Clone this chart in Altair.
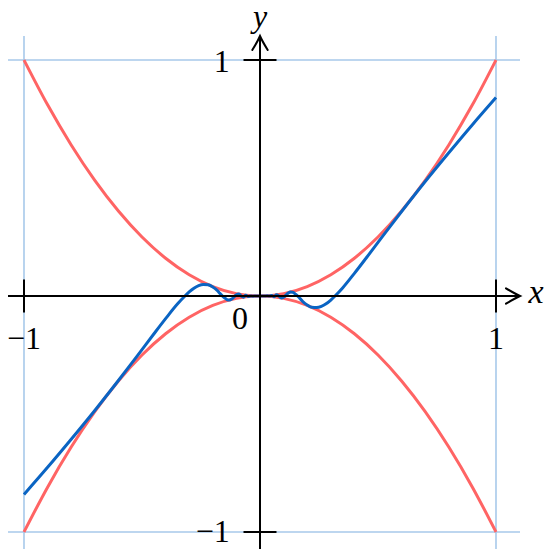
import altair as alt
import pandas as pd

# ---- data ----
blue_x = [-1.0, -0.9, -0.8, -0.7, -0.6, -0.55, -0.5, -0.45, -0.4, -0.35, -0.32, -0.3,
          -0.28, -0.26, -0.24, -0.22, -0.2, -0.19, -0.18, -0.17, -0.16, -0.15, -0.14,
          -0.13, -0.12, -0.11, -0.1, -0.09, -0.08, -0.07, -0.06, -0.05, -0.04, -0.03,
          -0.02, 0.0, 0.02, 0.03, 0.04, 0.05, 0.06, 0.07, 0.08, 0.09, 0.1, 0.11, 0.12,
          0.13, 0.14, 0.15, 0.16, 0.17, 0.18, 0.19, 0.2, 0.22, 0.24, 0.26, 0.28, 0.3,
          0.32, 0.35, 0.4, 0.45, 0.5, 0.55, 0.6, 0.7, 0.8, 0.9, 1.0]
blue_y = [-0.841, -0.726, -0.607, -0.485, -0.358, -0.293, -0.227, -0.161, -0.096, -0.034,
          -0.002, 0.017, 0.033, 0.044, 0.049, 0.048, 0.038, 0.031, 0.022, 0.011, 0.001,
          -0.008, -0.015, -0.017, -0.013, -0.004, 0.005, 0.008, 0.0004, -0.005, 0.003,
          -0.002, 0.0002, -0.0008, 0.0, 0.0, 0.0, 0.0008, -0.0002, 0.002, -0.003, 0.005,
          -0.0004, -0.008, -0.005, 0.004, 0.013, 0.017, 0.015, 0.008, -0.001, -0.011,
          -0.022, -0.031, -0.038, -0.048, -0.049, -0.044, -0.033, -0.017, 0.002, 0.034,
          0.096, 0.161, 0.227, 0.293, 0.358, 0.485, 0.607, 0.726, 0.841]

red_x = [-1.0, -0.9, -0.8, -0.7, -0.6, -0.5, -0.4, -0.3, -0.2, -0.1, 0.0,
         0.1, 0.2, 0.3, 0.4, 0.5, 0.6, 0.7, 0.8, 0.9, 1.0]
red_upper = [1.0, 0.81, 0.64, 0.49, 0.36, 0.25, 0.16, 0.09, 0.04, 0.01, 0.0,
             0.01, 0.04, 0.09, 0.16, 0.25, 0.36, 0.49, 0.64, 0.81, 1.0]
red_lower = [-1.0, -0.81, -0.64, -0.49, -0.36, -0.25, -0.16, -0.09, -0.04, -0.01, 0.0,
             -0.01, -0.04, -0.09, -0.16, -0.25, -0.36, -0.49, -0.64, -0.81, -1.0]

x_ticks = [-1, 1]
x_tick_labels = ["\u22121", "1"]
y_ticks = [1, -1]
y_tick_labels = ["1", "\u22121"]
origin_label = "0"

# ---- frame ----
X_MIN, X_MAX = -252 / 236, 285 / 236
Y_MIN, Y_MAX = -253 / 236, 288 / 236
AX_END = 260 / 236      # where the axis arrows end
TICK = 16.5 / 236

xs = alt.Scale(domain=[X_MIN, X_MAX], nice=False, zero=False)
ys = alt.Scale(domain=[Y_MIN, Y_MAX], nice=False, zero=False)
FONT = "Liberation Serif"

def X(f="x"):
    return alt.X(f"{f}:Q", scale=xs, axis=None)

def Y(f="y"):
    return alt.Y(f"{f}:Q", scale=ys, axis=None)

# light blue frame lines
frame_v = pd.DataFrame({"x": [-1, 1], "y": [Y_MIN, Y_MIN], "y2": [AX_END, AX_END]})
frame_h = pd.DataFrame({"y": [-1, 1], "x": [X_MIN, X_MIN], "x2": [AX_END, AX_END]})
fv = alt.Chart(frame_v).mark_rule(color="#a7c9ea", strokeWidth=1.6).encode(
    x=X(), y=Y(), y2="y2:Q")
fh = alt.Chart(frame_h).mark_rule(color="#a7c9ea", strokeWidth=1.6).encode(
    y=Y(), x=X(), x2="x2:Q")

# curves
red_df = pd.concat([
    pd.DataFrame({"x": red_x, "y": red_upper, "s": "up"}),
    pd.DataFrame({"x": red_x, "y": red_lower, "s": "low"}),
])
red = alt.Chart(red_df).mark_line(color="#ff6464", strokeWidth=3, interpolate="monotone").encode(
    x=X(), y=Y(), detail="s:N")
blue_df = pd.DataFrame({"x": blue_x, "y": blue_y})
blue = alt.Chart(blue_df).mark_line(color="#0a64c3", strokeWidth=3, interpolate="monotone").encode(
    x=X(), y=Y(), order="x:Q")

# axes
xaxis = alt.Chart(pd.DataFrame({"x": [X_MIN], "x2": [AX_END], "y": [0]})).mark_rule(
    color="black", strokeWidth=2).encode(x=X(), x2="x2:Q", y=Y())
yaxis = alt.Chart(pd.DataFrame({"y": [Y_MIN], "y2": [AX_END], "x": [0]})).mark_rule(
    color="black", strokeWidth=2).encode(y=Y(), y2="y2:Q", x=X())
xarrow = alt.Chart(pd.DataFrame({"x": [AX_END], "y": [0]})).mark_point(
    shape="M -1 -0.55 Q -0.35 -0.15 0 0 Q -0.35 0.15 -1 0.55",
    size=784, filled=False, color="black", strokeWidth=2, opacity=1,
    strokeCap="round", strokeJoin="miter").encode(x=X(), y=Y())
yarrow = alt.Chart(pd.DataFrame({"x": [0], "y": [AX_END]})).mark_point(
    shape="M -0.55 1 Q -0.15 0.35 0 0 Q 0.15 0.35 0.55 1",
    size=784, filled=False, color="black", strokeWidth=2, opacity=1,
    strokeCap="round", strokeJoin="miter").encode(x=X(), y=Y())

xt = alt.Chart(pd.DataFrame({"x": x_ticks, "y": [-TICK] * 2, "y2": [TICK] * 2})).mark_rule(
    color="black", strokeWidth=2).encode(x=X(), y=Y(), y2="y2:Q")
yt = alt.Chart(pd.DataFrame({"y": y_ticks, "x": [-TICK] * 2, "x2": [TICK] * 2})).mark_rule(
    color="black", strokeWidth=2).encode(y=Y(), x=X(), x2="x2:Q")

# labels
xl = alt.Chart(pd.DataFrame({"x": x_ticks, "y": [-53 / 236] * 2, "t": x_tick_labels})).mark_text(
    font=FONT, fontSize=32, align="center", baseline="alphabetic", color="black").encode(
    x=X(), y=Y(), text="t:N")
yl = alt.Chart(pd.DataFrame({"y": [0.951, -1.0436], "x": [-0.128] * 2, "t": y_tick_labels})).mark_text(
    font=FONT, fontSize=32, align="right", baseline="alphabetic", color="black").encode(
    x=X(), y=Y(), text="t:N")
ol = alt.Chart(pd.DataFrame({"x": [-20 / 236], "y": [-33 / 236], "t": [origin_label]})).mark_text(
    font=FONT, fontSize=32, align="center", baseline="alphabetic", color="black").encode(
    x=X(), y=Y(), text="t:N")
xname = alt.Chart(pd.DataFrame({"x": [276 / 236], "y": [-7 / 236], "t": ["x"]})).mark_text(
    font=FONT, fontSize=34, fontStyle="italic", align="center", baseline="alphabetic", color="black").encode(
    x=X(), y=Y(), text="t:N")
yname = alt.Chart(pd.DataFrame({"x": [0], "y": [269 / 236], "t": ["y"]})).mark_text(
    font=FONT, fontSize=32, fontStyle="italic", align="center", baseline="alphabetic", color="black").encode(
    x=X(), y=Y(), text="t:N")

chart = alt.layer(fv, fh, red, blue, xaxis, yaxis, xarrow, yarrow, xt, yt, xl, yl, ol,
                  xname, yname).properties(
    width=537, height=541, padding=0, autosize=alt.AutoSizeParams(type="none"),
    background="white",
).configure_view(strokeWidth=0)

chart.save("out.html", embed_options={"renderer": "svg", "actions": False})
